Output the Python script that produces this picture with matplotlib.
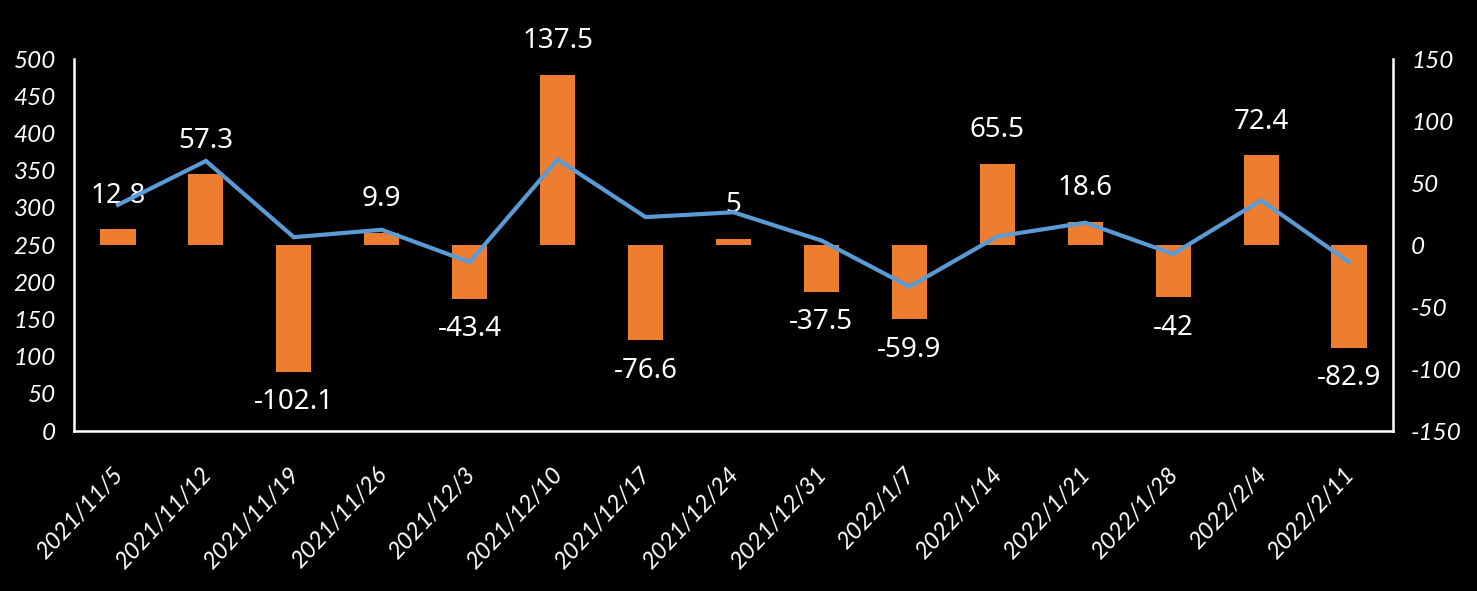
import matplotlib
matplotlib.use("Agg")
import matplotlib.pyplot as plt
import matplotlib.transforms as mtransforms

categories = ["2021/11/5", "2021/11/12", "2021/11/19", "2021/11/26", "2021/12/3",
              "2021/12/10", "2021/12/17", "2021/12/24", "2021/12/31", "2022/1/7",
              "2022/1/14", "2022/1/21", "2022/1/28", "2022/2/4", "2022/2/11"]
bar_values = [12.8, 57.3, -102.1, 9.9, -43.4, 137.5, -76.6, 5, -37.5, -59.9,
              65.5, 18.6, -42, 72.4, -82.9]
line_values = [304, 363, 260.5, 270.5, 227, 365, 287.5, 294, 256, 194,
               261.5, 280, 238, 310, 227]
left_ticks = [0, 50, 100, 150, 200, 250, 300, 350, 400, 450, 500]
right_ticks = [-150, -100, -50, 0, 50, 100, 150]

W, H = 1477, 591
fig = plt.figure(figsize=(W / 100, H / 100), dpi=100, facecolor="black")
ax = fig.add_axes([74 / W, 1 - 431 / H, (1393 - 74) / W, (431 - 59) / H])
ax2 = ax.twinx()
ax.set_zorder(ax2.get_zorder() + 1)
ax.patch.set_visible(False)
ax2.set_facecolor("black")

x = list(range(len(categories)))
ax2.bar(x, bar_values, width=0.4, color="#ED7D31", zorder=2)
ax.plot(x, line_values, color="#5B9BD5", linewidth=3.0, solid_joinstyle="miter", zorder=3)

ax.set_xlim(-0.5, len(categories) - 0.5)
ax.set_ylim(0, 500)
ax2.set_ylim(-150, 150)
ax.set_yticks(left_ticks)
ax2.set_yticks(right_ticks)

tick_font = dict(family="Lato", style="italic", size=17.5)
for a in (ax, ax2):
    for s in a.spines.values():
        s.set_visible(False)
    a.tick_params(length=0, colors="white")
ax.spines["left"].set_visible(True)
ax.spines["bottom"].set_visible(True)
ax2.spines["right"].set_visible(True)
for s in (ax.spines["left"], ax.spines["bottom"], ax2.spines["right"]):
    s.set_color("white")
    s.set_linewidth(1.8)

ax.set_yticklabels([str(t) for t in left_ticks], fontdict=tick_font, color="white")
ax2.set_yticklabels([str(t) for t in right_ticks], fontdict=tick_font, color="white")
ax.tick_params(axis="y", pad=13)
ax2.tick_params(axis="y", pad=13)

ax.set_xticks(x)
ax.set_xticklabels(categories, rotation=47, ha="right", va="center",
                   rotation_mode="anchor",
                   fontdict=dict(family="Lato", style="italic", size=17),
                   color="white")
ax.tick_params(axis="x", pad=0)
offset = mtransforms.ScaledTranslation(2 / 100, -40 / 100, fig.dpi_scale_trans)
for lbl in ax.get_xticklabels():
    lbl.set_transform(lbl.get_transform() + offset)

for xi, v in zip(x, bar_values):
    label = f"{v:g}"
    if v >= 0:
        ax2.annotate(label, (xi, v), xytext=(0, 14), textcoords="offset points",
                     ha="center", va="bottom", color="white", fontsize=20,
                     family="Noto Sans", zorder=5)
    else:
        ax2.annotate(label, (xi, v), xytext=(0, -12), textcoords="offset points",
                     ha="center", va="top", color="white", fontsize=20,
                     family="Noto Sans", zorder=5)

fig.savefig("out.png", dpi=100, facecolor="black")
